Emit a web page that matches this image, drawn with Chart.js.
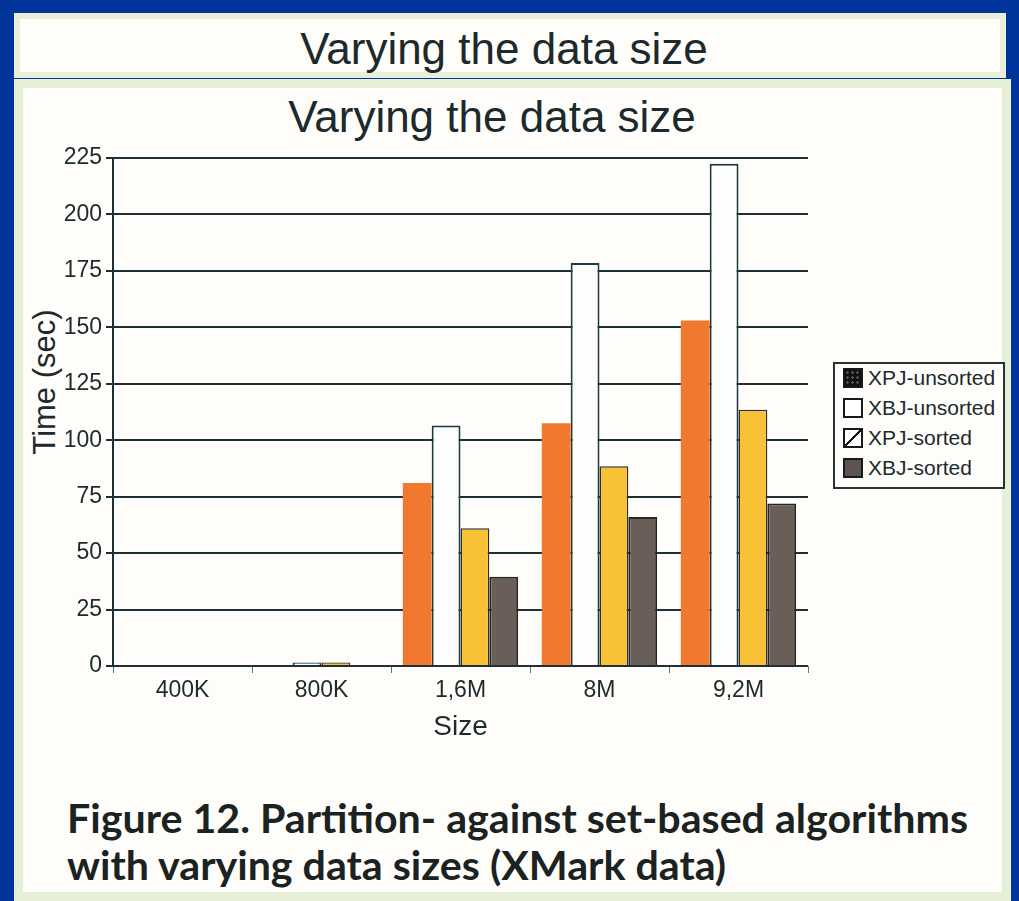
<!DOCTYPE html>
<html>
<head>
<meta charset="utf-8">
<script src="https://cdn.jsdelivr.net/npm/chart.js@4.4.1/dist/chart.umd.min.js"></script>
<style>
  body { margin: 0; width: 1019px; height: 901px; overflow: hidden; position: relative; background: #00349a; font-family: 'Liberation Sans', Arial, sans-serif; color: #1c2a2e; }
  #topbox { position: absolute; left: 14px; top: 13px; width: 992px; height: 65px; box-sizing: border-box; background: #fffdf9; border: 6px solid #e8f0dc; }
  #toptitle { position: absolute; left: 204px; width: 600px; top: 27px; text-align: center; font-size: 44px; line-height: 44px; }
  #panel { position: absolute; left: 14px; top: 79px; width: 997px; height: 822px; box-sizing: border-box; background: #fffdf9; border: 9px solid #e6efd8; }
  #charttitle { position: absolute; left: 192px; width: 600px; top: 95px; text-align: center; font-size: 44px; line-height: 44px; }
  #ytitle { position: absolute; left: 45px; top: 382px; font-size: 31px; line-height: 34px; white-space: nowrap; transform: translate(-50%, -50%) rotate(-90deg); }
  #wrap { position: absolute; left: 20px; top: 85px; width: 800px; height: 670px; }
  #legend { position: absolute; left: 833px; top: 362px; width: 172px; height: 127px; box-sizing: border-box; border: 2px solid #263235; background: #fffdf9; }
  .row { position: absolute; left: 0; height: 20px; }
  .sw { position: absolute; left: 8px; top: 0; width: 20px; height: 20px; box-sizing: border-box; border: 2px solid #151a1b; }
  .lt { position: absolute; left: 33px; top: -2px; font-size: 21px; line-height: 24px; white-space: nowrap; }
  #caption { position: absolute; left: 67px; top: 794px; font-family: Lato, 'Noto Sans', sans-serif; font-weight: 700; font-size: 41px; line-height: 47px; white-space: nowrap; transform-origin: 0 0; color: #1a2222; }
</style>
</head>
<body>
<div id="topbox"></div>
<div id="toptitle">Varying the data size</div>
<div id="panel"></div>
<div id="charttitle">Varying the data size</div>
<div id="ytitle">Time (sec)</div>
<div id="wrap"><canvas id="sizeChart" width="800" height="670"></canvas></div>
<div id="legend"></div>
<div id="caption"><div id="cap1">Figure 12. Partition- against set-based algorithms</div><div id="cap2">with varying data sizes (XMark data)</div></div>
<script>
const sizes = ['400K', '800K', '1,6M', '8M', '9,2M'];
const seriesNames = ['XPJ-unsorted', 'XBJ-unsorted', 'XPJ-sorted', 'XBJ-sorted'];
const xpjUnsorted = [0, 0, 81, 107.5, 153];
const xbjUnsorted = [0, 1.5, 106.5, 178.5, 222.5];
const xpjSorted = [0, 1.5, 61, 88.5, 113.5];
const xbjSorted = [0, 0, 39.5, 66, 72];
const yMin = 0, yMax = 225, yStep = 25;

const ink = '#1c2a2e';

// legend swatches look different from the bars in the original figure
const swatchStyles = [
    'background:#111 radial-gradient(circle, #555 1px, transparent 1.5px) 0 0/5px 5px',
    'background:#fff',
    'background:linear-gradient(to bottom right, #fff 44%, #111 45%, #111 55%, #fff 56%)',
    'background:#5e5552'
];
const legend = document.getElementById('legend');
seriesNames.forEach(function(name, i) {
    const row = document.createElement('div');
    row.className = 'row';
    row.style.top = (4 + i * 30) + 'px';
    row.innerHTML = '<div class="sw" style="' + swatchStyles[i] + '"></div><div class="lt">' + name + '</div>';
    legend.appendChild(row);
});

const ctx = document.getElementById('sizeChart').getContext('2d');
const chart = new Chart(ctx, {
    type: 'bar',
    data: {
        labels: sizes,
        datasets: [
            { label: seriesNames[0], data: xpjUnsorted, backgroundColor: '#f0782f', borderWidth: 0 },
            { label: seriesNames[1], data: xbjUnsorted, backgroundColor: '#fdfdfb', borderColor: '#1e3a40', borderWidth: 2 },
            { label: seriesNames[2], data: xpjSorted, backgroundColor: '#f8c136', borderColor: '#2c3030', borderWidth: 1.5 },
            { label: seriesNames[3], data: xbjSorted, backgroundColor: '#6a5e58', borderColor: '#262626', borderWidth: 2 }
        ]
    },
    options: {
        responsive: false,
        animation: false,
        layout: { padding: { left: 0, right: 12, top: 73, bottom: 0 } },
        datasets: { bar: { categoryPercentage: 0.83, barPercentage: 1 } },
        plugins: {
            legend: { display: false },
            tooltip: { enabled: false }
        },
        scales: {
            x: {
                grid: { drawOnChartArea: false, drawTicks: true, tickLength: 7, color: '#4a7d8c', lineWidth: 1 },
                border: { display: false },
                ticks: { color: ink, padding: 4, font: { family: "'Liberation Sans', Arial", size: 23 } },
                title: { display: true, text: 'Size', color: ink, padding: { top: 4, bottom: 11 }, font: { family: "'Liberation Sans', Arial", size: 28 } },
                afterFit: function(s) { s.height = 89; }
            },
            y: {
                min: yMin,
                max: yMax,
                ticks: { stepSize: yStep, color: ink, padding: 4, font: { family: "'Liberation Sans', Arial", size: 23 } },
                grid: { color: '#1e3035', lineWidth: 2, tickLength: 7 },
                border: { display: true, color: '#1e3035', width: 2 },
                afterFit: function(s) { s.width = 93; }
            }
        }
    }
});

// squeeze the caption to the width of the printed one
const cap = document.getElementById('caption');
const w = document.getElementById('cap1').getBoundingClientRect().width;
cap.style.transform = 'scaleX(' + (901 / w) + ')';
</script>
</body>
</html>
